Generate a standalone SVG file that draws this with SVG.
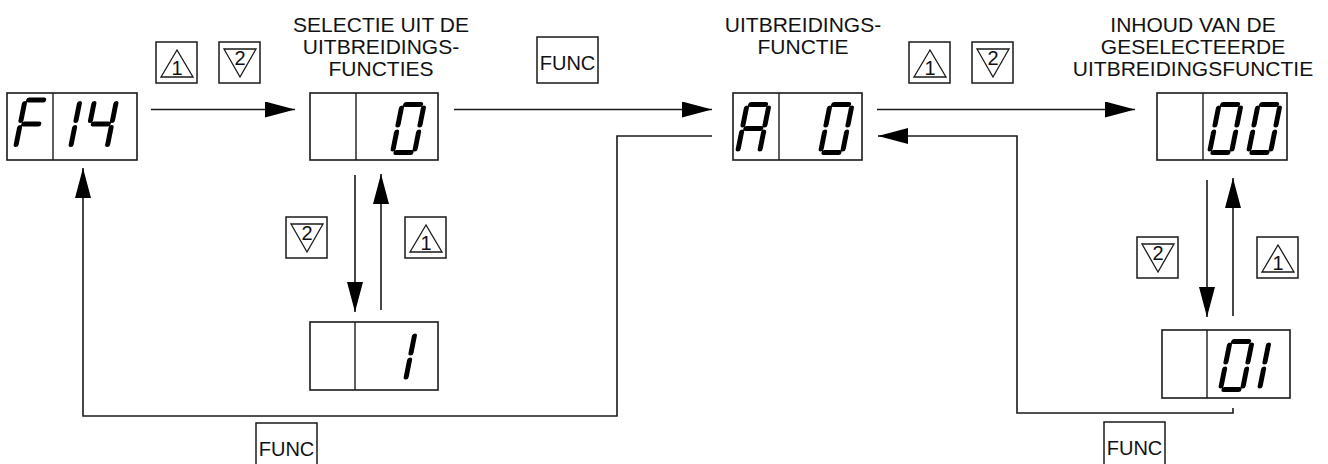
<svg xmlns="http://www.w3.org/2000/svg" width="1328" height="464" viewBox="0 0 1328 464">
  <style>
    .box{fill:none;stroke:#1a1a1a;stroke-width:1.6}
    .div{stroke:#1a1a1a;stroke-width:1.4}
    .seg{fill:none;stroke:#000;stroke-width:5;stroke-linecap:round;stroke-linejoin:round}
    .lbl{font-family:"Liberation Sans",Arial,sans-serif;font-size:21px;fill:#111;text-anchor:middle}
    .key rect{fill:#fff;stroke:#1a1a1a;stroke-width:1.5}
    .key polygon{fill:none;stroke:#1a1a1a;stroke-width:1.3}
    .key text{font-family:"Liberation Sans",Arial,sans-serif;font-size:20px;fill:#111;text-anchor:middle}
    .wire{fill:none;stroke:#1a1a1a;stroke-width:1.6}
  </style>
  <defs>
    <marker id="ah" markerUnits="userSpaceOnUse" markerWidth="30" markerHeight="16" refX="30" refY="8" orient="auto" viewBox="0 0 30 16">
      <path d="M0,0 L30,8 L0,16 Z" fill="#000"/>
    </marker>
    <!-- seven-segment display cells, origin at bottom-left, segments a..g -->
    <path id="d0" class="seg" d="M3.5,-48H18.5M22,-44.5V-27.5M22,-20.5V-3.5M3.5,0H18.5M0,-3.5V-20.5M0,-27.5V-44.5"/>
    <path id="d1" class="seg" d="M22,-44.5V-27.5M22,-20.5V-3.5"/>
    <path id="d4" class="seg" d="M0,-27.5V-44.5M3.5,-24H18.5M22,-44.5V-27.5M22,-20.5V-3.5"/>
    <path id="dF" class="seg" d="M3.5,-48H18.5M0,-27.5V-44.5M0,-3.5V-20.5M3.5,-24H18.5"/>
    <path id="dA" class="seg" d="M3.5,-48H18.5M22,-44.5V-27.5M22,-20.5V-3.5M0,-3.5V-20.5M0,-27.5V-44.5M3.5,-24H18.5"/>
  </defs>

  <rect width="1328" height="464" fill="#fff"/>

  <!-- labels -->
  <g id="label-selectie">
    <text class="lbl" x="381" y="32">SELECTIE UIT DE</text>
    <text class="lbl" x="381" y="54">UITBREIDINGS-</text>
    <text class="lbl" x="381" y="76">FUNCTIES</text>
  </g>
  <g id="label-functie">
    <text class="lbl" x="803" y="32">UITBREIDINGS-</text>
    <text class="lbl" x="803" y="54">FUNCTIE</text>
  </g>
  <g id="label-inhoud">
    <text class="lbl" x="1193" y="32">INHOUD VAN DE</text>
    <text class="lbl" x="1193" y="54">GESELECTEERDE</text>
    <text class="lbl" x="1193" y="76">UITBREIDINGSFUNCTIE</text>
  </g>

  <!-- connectors -->
  <g id="connectors">
    <path class="wire" d="M151,109.5H295" marker-end="url(#ah)"/>
    <path class="wire" d="M454,109.5H712" marker-end="url(#ah)"/>
    <path class="wire" d="M877,109.5H1135" marker-end="url(#ah)"/>
    <path class="wire" d="M712,136H617V416H83V168" marker-end="url(#ah)"/>
    <path class="wire" d="M1233,408V413H1017V136H878" marker-end="url(#ah)"/>
    <path class="wire" d="M355,175V312" marker-end="url(#ah)"/>
    <path class="wire" d="M381,310V174" marker-end="url(#ah)"/>
    <path class="wire" d="M1207,180V317" marker-end="url(#ah)"/>
    <path class="wire" d="M1233,316V178" marker-end="url(#ah)"/>
  </g>

  <!-- display nodes -->
  <g id="disp-f14">
    <rect class="box" x="7" y="93" width="130" height="67"/>
    <line class="div" x1="53" y1="93" x2="53" y2="160"/>
    <use href="#dF" transform="translate(15.5,148) skewX(-11.3)"/>
    <use href="#d1" transform="translate(48.5,148) skewX(-11.3)"/>
    <use href="#d4" transform="translate(85,148) skewX(-11.3)"/>
  </g>
  <g id="disp-sel0">
    <rect class="box" x="310" y="93" width="128" height="67"/>
    <line class="div" x1="356" y1="93" x2="356" y2="160"/>
    <use href="#d0" transform="translate(392.5,152.5) skewX(-11.3)"/>
  </g>
  <g id="disp-sel1">
    <rect class="box" x="310" y="322" width="128" height="68"/>
    <line class="div" x1="355" y1="322" x2="355" y2="390"/>
    <use href="#d1" transform="translate(383.5,380.5) skewX(-11.3)"/>
  </g>
  <g id="disp-a0">
    <rect class="box" x="733" y="93" width="129" height="67"/>
    <line class="div" x1="779" y1="93" x2="779" y2="160"/>
    <use href="#dA" transform="translate(737.5,152.5) skewX(-11.3)"/>
    <use href="#d0" transform="translate(820.5,152.5) skewX(-11.3)"/>
  </g>
  <g id="disp-00">
    <rect class="box" x="1157" y="93" width="130" height="67"/>
    <line class="div" x1="1203" y1="93" x2="1203" y2="160"/>
    <use href="#d0" transform="translate(1209.5,152.5) skewX(-11.3)"/>
    <use href="#d0" transform="translate(1248.5,152.5) skewX(-11.3)"/>
  </g>
  <g id="disp-01">
    <rect class="box" x="1162" y="330" width="128" height="68"/>
    <line class="div" x1="1207" y1="330" x2="1207" y2="398"/>
    <use href="#d0" transform="translate(1220.5,389.5) skewX(-11.3)"/>
    <use href="#d1" transform="translate(1237.5,389.5) skewX(-11.3)"/>
  </g>

  <!-- keys -->
  <g id="key-up-a" class="key" transform="translate(156,42)">
    <rect width="41" height="41"/><polygon points="21,8 5,35 37,35"/><text x="21" y="33">1</text>
  </g>
  <g id="key-down-a" class="key" transform="translate(219,42)">
    <rect width="41" height="41"/><polygon points="5,7 37,7 21,35"/><text x="21" y="22.5">2</text>
  </g>
  <g id="key-func-a" class="key" transform="translate(537,37)">
    <rect width="61" height="46"/><text x="30.5" y="33">FUNC</text>
  </g>
  <g id="key-up-b" class="key" transform="translate(909,42)">
    <rect width="41" height="41"/><polygon points="21,8 5,35 37,35"/><text x="21" y="33">1</text>
  </g>
  <g id="key-down-b" class="key" transform="translate(972,42)">
    <rect width="41" height="41"/><polygon points="5,7 37,7 21,35"/><text x="21" y="22.5">2</text>
  </g>
  <g id="key-down-c" class="key" transform="translate(286,217)">
    <rect width="41" height="41"/><polygon points="5,7 37,7 21,35"/><text x="21" y="22.5">2</text>
  </g>
  <g id="key-up-c" class="key" transform="translate(405,217)">
    <rect width="41" height="41"/><polygon points="21,8 5,35 37,35"/><text x="21" y="33">1</text>
  </g>
  <g id="key-down-d" class="key" transform="translate(1137,237)">
    <rect width="41" height="41"/><polygon points="5,7 37,7 21,35"/><text x="21" y="22.5">2</text>
  </g>
  <g id="key-up-d" class="key" transform="translate(1257,237)">
    <rect width="41" height="41"/><polygon points="21,8 5,35 37,35"/><text x="21" y="33">1</text>
  </g>
  <g id="key-func-b" class="key" transform="translate(256,423)">
    <rect width="61" height="46"/><text x="30.5" y="33">FUNC</text>
  </g>
  <g id="key-func-c" class="key" transform="translate(1104,422)">
    <rect width="61" height="46"/><text x="30.5" y="33">FUNC</text>
  </g>
</svg>
